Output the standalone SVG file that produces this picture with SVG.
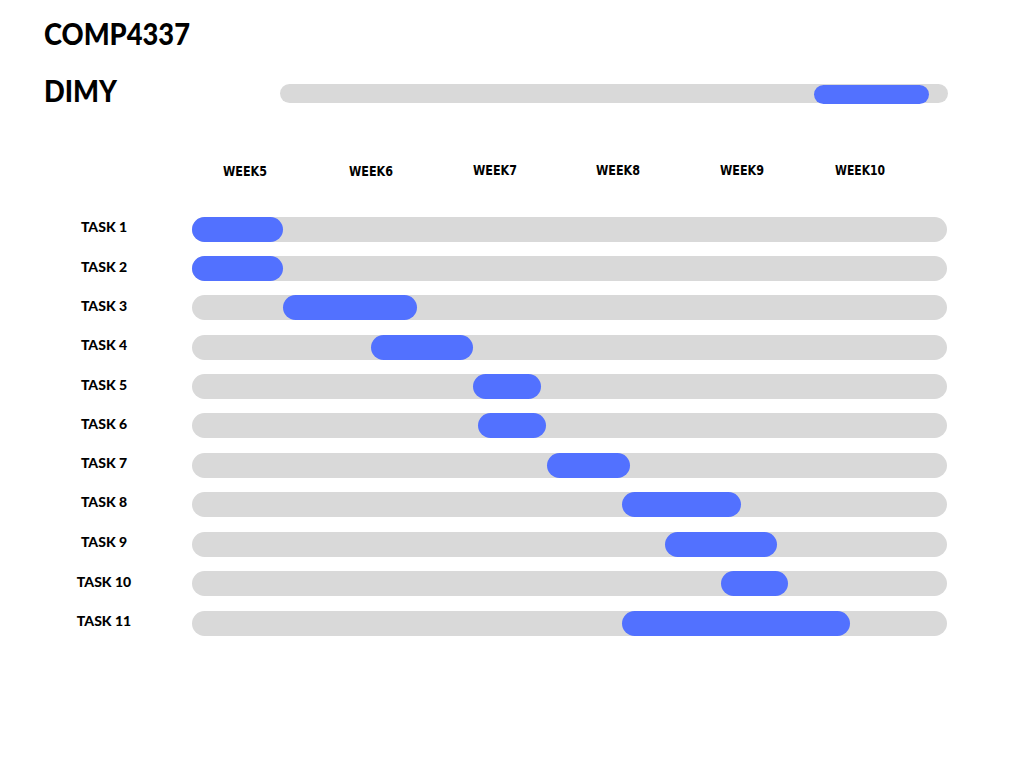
<svg xmlns="http://www.w3.org/2000/svg" width="1024" height="768" viewBox="0 0 1024 768">
<style>
.bg{fill:#d9d9d9}
.bar{fill:#5271ff}
.title{font-family:"Lato","DejaVu Sans",sans-serif;font-weight:900;font-size:31px;fill:#000}
.wk{font-family:"DejaVu Sans","Liberation Sans",sans-serif;font-weight:bold;font-size:14px;fill:#000;text-anchor:middle}
.tk{font-family:"Lato","Liberation Sans",sans-serif;font-weight:900;font-size:14px;fill:#000;text-anchor:middle}
</style>
<rect width="1024" height="768" fill="#fff"/>
<g id="header">
<text class="title" x="44" y="45" textLength="146" lengthAdjust="spacingAndGlyphs">COMP4337</text>
<text class="title" x="44" y="102" textLength="73" lengthAdjust="spacingAndGlyphs">DIMY</text>
</g>
<g id="overall">
<rect class="bg" x="280" y="84" width="668" height="19" rx="9.5"/>
<rect class="bar" x="814" y="85" width="115" height="19" rx="9.5"/>
</g>
<g id="weeks">
<text class="wk" x="245" y="176" textLength="44" lengthAdjust="spacingAndGlyphs">WEEK5</text>
<text class="wk" x="371" y="176" textLength="44" lengthAdjust="spacingAndGlyphs">WEEK6</text>
<text class="wk" x="495" y="175" textLength="44" lengthAdjust="spacingAndGlyphs">WEEK7</text>
<text class="wk" x="618" y="175" textLength="44" lengthAdjust="spacingAndGlyphs">WEEK8</text>
<text class="wk" x="742" y="175" textLength="44" lengthAdjust="spacingAndGlyphs">WEEK9</text>
<text class="wk" x="860" y="175" textLength="50" lengthAdjust="spacingAndGlyphs">WEEK10</text>
</g>
<g id="task1"><text class="tk" x="104" y="232">TASK 1</text><rect class="bg" x="192" y="217" width="755" height="25" rx="12.5"/><rect class="bar" x="192" y="217" width="91" height="25" rx="12.5"/></g>
<g id="task2"><text class="tk" x="104" y="272">TASK 2</text><rect class="bg" x="192" y="256" width="755" height="25" rx="12.5"/><rect class="bar" x="192" y="256" width="91" height="25" rx="12.5"/></g>
<g id="task3"><text class="tk" x="104" y="311">TASK 3</text><rect class="bg" x="192" y="295" width="755" height="25" rx="12.5"/><rect class="bar" x="283" y="295" width="134" height="25" rx="12.5"/></g>
<g id="task4"><text class="tk" x="104" y="350">TASK 4</text><rect class="bg" x="192" y="335" width="755" height="25" rx="12.5"/><rect class="bar" x="371" y="335" width="102" height="25" rx="12.5"/></g>
<g id="task5"><text class="tk" x="104" y="390">TASK 5</text><rect class="bg" x="192" y="374" width="755" height="25" rx="12.5"/><rect class="bar" x="473" y="374" width="68" height="25" rx="12.5"/></g>
<g id="task6"><text class="tk" x="104" y="429">TASK 6</text><rect class="bg" x="192" y="413" width="755" height="25" rx="12.5"/><rect class="bar" x="478" y="413" width="68" height="25" rx="12.5"/></g>
<g id="task7"><text class="tk" x="104" y="468">TASK 7</text><rect class="bg" x="192" y="453" width="755" height="25" rx="12.5"/><rect class="bar" x="547" y="453" width="83" height="25" rx="12.5"/></g>
<g id="task8"><text class="tk" x="104" y="507">TASK 8</text><rect class="bg" x="192" y="492" width="755" height="25" rx="12.5"/><rect class="bar" x="622" y="492" width="119" height="25" rx="12.5"/></g>
<g id="task9"><text class="tk" x="104" y="547">TASK 9</text><rect class="bg" x="192" y="532" width="755" height="25" rx="12.5"/><rect class="bar" x="665" y="532" width="112" height="25" rx="12.5"/></g>
<g id="task10"><text class="tk" x="104" y="587">TASK 10</text><rect class="bg" x="192" y="571" width="755" height="25" rx="12.5"/><rect class="bar" x="721" y="571" width="67" height="25" rx="12.5"/></g>
<g id="task11"><text class="tk" x="104" y="626">TASK 11</text><rect class="bg" x="192" y="611" width="755" height="25" rx="12.5"/><rect class="bar" x="622" y="611" width="228" height="25" rx="12.5"/></g>
<g id="connectors"/>
</svg>
